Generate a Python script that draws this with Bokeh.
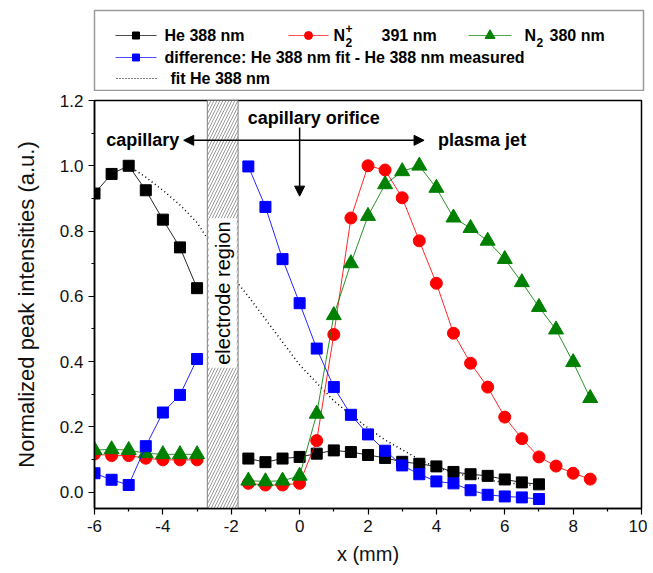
import math
from bokeh.plotting import figure
from bokeh.models import (Range1d, Arrow, NormalHead, Label,
                          FixedTicker, PrintfTickFormatter)
from bokeh.layouts import column
from bokeh.embed import file_html
from bokeh.resources import INLINE

# ---------------- data ----------------
x_capillary = [-6.0, -5.5, -5.0, -4.5, -4.0, -3.5, -3.0]
x_jet_he = [-1.5, -1.0, -0.5, 0.0, 0.5, 1.0, 1.5, 2.0, 2.5, 3.0, 3.5, 4.0,
            4.5, 5.0, 5.5, 6.0, 6.5, 7.0]
x_jet_n2 = [-1.5, -1.0, -0.5, 0.0, 0.5, 1.0, 1.5, 2.0, 2.5, 3.0, 3.5, 4.0,
            4.5, 5.0, 5.5, 6.0, 6.5, 7.0, 7.5, 8.0, 8.5]

he388_capillary = [0.915, 0.975, 1.0, 0.925, 0.835, 0.75, 0.625]
he388_jet = [0.103, 0.092, 0.103, 0.108, 0.118, 0.128, 0.123, 0.114, 0.105,
             0.093, 0.087, 0.079, 0.062, 0.055, 0.05, 0.039, 0.03, 0.024]

n2plus_capillary = [0.117, 0.112, 0.112, 0.104, 0.099, 0.099, 0.099]
n2plus_jet = [0.027, 0.022, 0.022, 0.027, 0.158, 0.483, 0.84, 1.0, 0.987,
              0.902, 0.77, 0.64, 0.487, 0.395, 0.322, 0.23, 0.164, 0.108,
              0.08, 0.058, 0.04]

n2_capillary = [0.129, 0.131, 0.129, 0.119, 0.116, 0.116, 0.116]
n2_jet = [0.035, 0.033, 0.035, 0.05, 0.24, 0.542, 0.701, 0.846, 0.943,
          0.983, 1.0, 0.932, 0.841, 0.809, 0.77, 0.714, 0.643, 0.567,
          0.498, 0.398, 0.288]

diff_capillary = [0.058, 0.038, 0.022, 0.141, 0.244, 0.298, 0.408]
diff_jet = [0.998, 0.874, 0.714, 0.579, 0.44, 0.322, 0.237, 0.177, 0.127,
            0.082, 0.055, 0.033, 0.027, 0.006, -0.008, -0.013, -0.016, -0.021]

fit_x = [-5.0, -4.5, -4.0, -3.5, -3.0, -2.5, -2.0, -1.5, -1.0, -0.5, 0.0,
         0.5, 1.0, 1.5, 2.0, 2.5, 3.0, 3.5, 4.0, 4.5, 5.0, 5.5, 6.0, 6.5, 7.0]
fit_he388 = [1.0, 0.965, 0.925, 0.88, 0.826, 0.745, 0.665, 0.6, 0.53, 0.46,
             0.39, 0.335, 0.28, 0.237, 0.197, 0.16, 0.13, 0.1, 0.076, 0.06,
             0.047, 0.037, 0.03, 0.024, 0.019]

electrode_region = [-2.7, -1.8]

x_ticks = [-6, -4, -2, 0, 2, 4, 6, 8, 10]
y_ticks = [0.0, 0.2, 0.4, 0.6, 0.8, 1.0, 1.2]

FONT = "Liberation Sans"
BLACK, RED, GREEN, BLUE = "#000000", "#ff0000", "#008000", "#0000ff"

# ---------------- main plot ----------------
p = figure(frame_width=547, frame_height=408,
           x_range=Range1d(-6, 10), y_range=Range1d(-0.05, 1.2),
           min_border_left=94, min_border_right=6, min_border_top=9,
           min_border_bottom=55, toolbar_location=None, output_backend="svg")
p.grid.visible = False
p.outline_line_color = "black"
p.outline_line_width = 1.5
p.background_fill_color = "white"

p.xaxis.ticker = FixedTicker(ticks=x_ticks,
                             minor_ticks=[t + 1 for t in x_ticks[:-1]])
p.yaxis.ticker = FixedTicker(ticks=y_ticks,
                             minor_ticks=[round(t + 0.1, 2) for t in y_ticks[:-1]])
p.xaxis.formatter = PrintfTickFormatter(format="%d")
p.yaxis.formatter = PrintfTickFormatter(format="%.1f")
for ax in (p.xaxis[0], p.yaxis[0]):
    ax.major_tick_out = 6
    ax.major_tick_in = 0
    ax.minor_tick_out = 3
    ax.minor_tick_in = 0
    ax.axis_line_width = 1.5
    ax.major_tick_line_width = 1.2
    ax.minor_tick_line_width = 1.2
    ax.major_label_text_font = FONT
    ax.major_label_text_font_size = "17px"
    ax.major_label_text_color = "#111111"
    ax.axis_label_text_font = FONT
    ax.axis_label_text_font_style = "normal"
    ax.axis_label_text_color = "#111111"
p.xaxis.axis_label = "x (mm)"
p.xaxis.axis_label_text_font_size = "20px"
p.xaxis.axis_label_standoff = 8
p.yaxis.axis_label = "Normalized peak intensities (a.u.)"
p.yaxis.axis_label_text_font_size = "22px"
p.yaxis.axis_label_standoff = 18

# fit curve (drawn first, partly hidden by the electrode box)
p.line(fit_x, fit_he388, line_color="black", line_width=1.5, line_dash="1 3")

# electrode region (hatched band over the full height of the frame)
p.quad(left=[electrode_region[0]], right=[electrode_region[1]],
       bottom=[p.y_range.start], top=[p.y_range.end],
       fill_color="white", hatch_pattern="/", hatch_color="#909090",
       hatch_scale=6, hatch_weight=0.9,
       line_color="#808080", line_width=1)


def series(xs, ys, color, marker, size):
    p.line(xs, ys, line_color=color, line_width=1, line_alpha=0.85)
    p.scatter(xs, ys, marker=marker, size=size, fill_color=color,
              line_color=color)


series(x_capillary, he388_capillary, BLACK, "square", 11)
series(x_jet_he, he388_jet, BLACK, "square", 11)
series(x_capillary, n2plus_capillary, RED, "circle", 12)
series(x_jet_n2, n2plus_jet, RED, "circle", 12)
series(x_capillary, n2_capillary, GREEN, "triangle", 15)
series(x_jet_n2, n2_jet, GREEN, "triangle", 15)
series(x_capillary, diff_capillary, BLUE, "square", 11)
series(x_jet_he, diff_jet, BLUE, "square", 11)

p.add_layout(Label(x=sum(electrode_region) / 2, y=0.61,
                   text="electrode region", angle=math.pi / 2,
                   text_align="center", text_baseline="middle",
                   text_font=FONT, text_font_size="20px", text_color="black",
                   background_fill_color="white", background_fill_alpha=1.0,
                   padding=3))

# arrows
p.add_layout(Arrow(start=NormalHead(size=10, fill_color="black", line_color="black"),
                   end=NormalHead(size=10, fill_color="black", line_color="black"),
                   x_start=-3.39, y_start=1.078, x_end=3.64, y_end=1.078,
                   line_width=1.5, line_color="black"))
p.add_layout(Arrow(end=NormalHead(size=10, fill_color="black", line_color="black"),
                   x_start=0.0, y_start=1.117, x_end=0.0, y_end=0.907,
                   line_width=1.5, line_color="black"))

ann = dict(text_font=FONT, text_font_style="bold", text_font_size="18px",
           text_baseline="middle", text_color="black")
p.add_layout(Label(x=-3.52, y=1.078, text="capillary", text_align="right", **ann))
p.add_layout(Label(x=-1.52, y=1.145, text="capillary orifice", text_align="left", **ann))
p.add_layout(Label(x=4.05, y=1.078, text="plasma jet", text_align="left", **ann))

# ---------------- legend panel ----------------
LW, LH = 549, 81
leg = figure(frame_width=LW, frame_height=LH,
             x_range=Range1d(0, LW), y_range=Range1d(LH, 0),
             x_axis_location=None, y_axis_location=None,
             min_border_left=93, min_border_right=4, min_border_top=10,
             min_border_bottom=0, toolbar_location=None, output_backend="svg")
leg.grid.visible = False
leg.outline_line_color = "#9a9a9a"
leg.outline_line_width = 1.5

rows = [25, 47, 68]
samples = [
    (21, 62, rows[0], BLACK, "square", 7, None),
    (194, 234, rows[0], RED, "circle", 8, None),
    (374, 417, rows[0], GREEN, "triangle", 10, None),
    (21, 62, rows[1], BLUE, "square", 7, None),
    (22, 62, rows[2], BLACK, None, 0, "1 2"),
]
for x0, x1, y, color, marker, size, dash in samples:
    if dash:
        leg.line([x0, x1], [y, y], line_color=color, line_width=1.2, line_dash=dash)
    else:
        leg.line([x0, x1], [y, y], line_color=color, line_width=1, line_alpha=0.7)
        leg.scatter([(x0 + x1) / 2], [y], marker=marker, size=size,
                    fill_color=color, line_color=color)

lt = dict(text_font=FONT, text_font_style="bold", text_baseline="middle",
          text_align="left", text_color="black")
leg.add_layout(Label(x=70, y=rows[0], text="He 388 nm", text_font_size="16px", **lt))
leg.add_layout(Label(x=239, y=rows[0], text="N", text_font_size="16px", **lt))
leg.add_layout(Label(x=251, y=rows[0] + 7, text="2", text_font_size="12px", **lt))
leg.add_layout(Label(x=251, y=rows[0] - 7, text="+", text_font_size="12px", **lt))
leg.add_layout(Label(x=287, y=rows[0], text="391 nm", text_font_size="16px", **lt))
leg.add_layout(Label(x=430, y=rows[0], text="N", text_font_size="16px", **lt))
leg.add_layout(Label(x=442, y=rows[0] + 7, text="2", text_font_size="12px", **lt))
leg.add_layout(Label(x=455, y=rows[0], text="380 nm", text_font_size="16px", **lt))
leg.add_layout(Label(x=70, y=rows[1],
                     text="difference: He 388 nm fit - He 388 nm measured",
                     text_font_size="16px", **lt))
leg.add_layout(Label(x=76, y=rows[2], text="fit He 388 nm", text_font_size="16px", **lt))

layout = column(leg, p, spacing=0)
open("out.html", "w").write(file_html(layout, INLINE))
